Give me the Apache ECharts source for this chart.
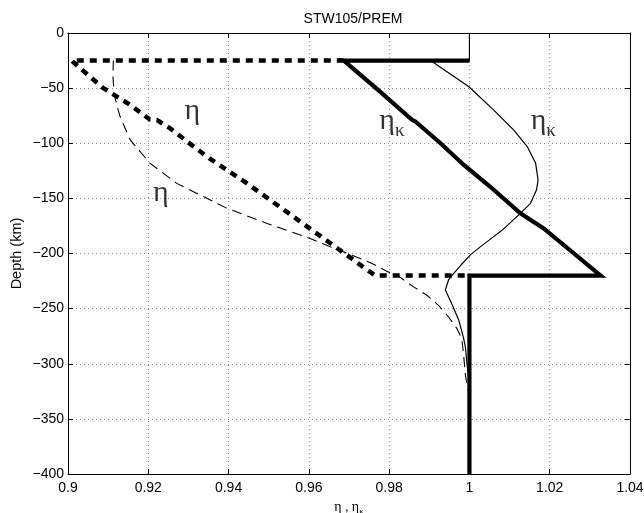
<!DOCTYPE html>
<html><head><meta charset="utf-8">
<script src="https://cdn.jsdelivr.net/npm/echarts@6/dist/echarts.min.js"></script>
<style>html,body{margin:0;padding:0;background:#fff}#c{width:644px;height:513px}</style>
</head><body><div id="c"></div>
<script>
// STW105 eta_kappa (thick solid)
const stwEtaK = [[1.0,-400],[1.0,-220],[1.0327,-220],[1.0185,-177.3],[1.0127,-163.6],[1.0052,-139.5],[0.9986,-119.7],[0.9928,-100],[0.9866,-80.5],[0.9857,-78.8],[0.9778,-53.4],[0.9687,-25],[1.0,-25]];
// STW105 eta (thick dotted)
const stwEta = [[0.9687,-25],[0.9009,-25],[0.903,-31.8],[0.9088,-50],[0.9155,-65.2],[0.9204,-78.5],[0.9222,-79],[0.9254,-86.4],[0.9346,-112.2],[0.9446,-136.4],[0.9562,-166.7],[0.9712,-206],[0.974,-213.6],[0.9766,-220],[1.0,-220]];
// PREM eta_kappa (thin solid)
const premEtaK = [[1.0,0],[1.0,-25],[0.9903,-25],[0.9998,-48.5],[1.006,-69.7],[1.011,-87.9],[1.0144,-103],[1.0165,-118.2],[1.0171,-133.4],[1.0167,-142.5],[1.0152,-154.5],[1.0127,-163.6],[1.0081,-179],[1.0045,-189],[1.0027,-194],[1.0003,-201],[0.998,-210],[0.9961,-218],[0.9948,-224],[0.994,-233],[0.9956,-245.5],[0.9973,-260],[0.9985,-276],[0.999,-285],[0.9994,-300],[1.0,-320],[1.0,-400]];
// PREM eta (thin dashed)
const premEta = [[0.9113,-25],[0.9112,-40],[0.9115,-55],[0.9122,-66],[0.913,-76],[0.9155,-97],[0.9204,-118],[0.9271,-136.4],[0.9396,-159],[0.9496,-172.7],[0.9603,-186.4],[0.9668,-196],[0.9728,-204.5],[0.9761,-209.7],[0.9794,-216],[0.9828,-221.8],[0.9861,-230.3],[0.9894,-237.9],[0.9923,-247],[0.9948,-257.6],[0.9969,-268.2],[0.9981,-277.3],[0.9986,-294],[0.999,-310.6],[1.0,-330],[1.0,-400]];
// curve labels [x, y, text]
const curveLabels = [[0.931,-71.1,'{e|η}'],[0.9231,-145.4,'{e|η}'],[0.9807,-80.3,'{e|η}{k|κ}'],[1.0184,-80.3,'{e|η}{k|κ}']];
const titleText = 'STW105/PREM';
const yName = 'Depth (km)';
const xName = '{e|η} {c|,} {e|η}{k|κ}';

const fmtX = v => String(parseFloat(v.toFixed(2)));
const fmtY = v => v < 0 ? '\u2212' + Math.abs(v) : String(v);
const tickFont = {fontFamily:'Liberation Sans', fontSize:14, color:'#000'};
const grid = {type:[1,3], color:'#777', width:0.8};
const chart = echarts.init(document.getElementById('c'), null, {renderer:'canvas'});
chart.setOption({
  animation:false,
  backgroundColor:'#fff',
  title:{text:titleText, left:348, top:7, textAlign:'center', textStyle:{fontFamily:'Liberation Sans', fontSize:14, fontWeight:'normal', color:'#000'}},
  grid:{left:68, right:14, top:33, bottom:39, show:false, containLabel:false, outerBoundsMode:'none'},
  xAxis:[
    {type:'value', min:0.9, max:1.04, interval:0.02, position:'bottom',
     axisLine:{show:true, onZero:false, lineStyle:{color:'#000', width:1}},
     axisTick:{show:true, inside:true, length:5, lineStyle:{color:'#000'}},
     axisLabel:{formatter:fmtX, margin:7, ...tickFont},
     splitLine:{show:true, lineStyle:grid},
     name:xName, nameLocation:'middle', nameGap:23, nameMoveOverlap:false,
     nameTextStyle:{rich:{e:{fontFamily:'Liberation Serif', fontSize:14, lineHeight:20, color:'#000'}, c:{fontFamily:'Liberation Sans', fontSize:13, lineHeight:20, color:'#000'}, k:{fontFamily:'Liberation Serif', fontSize:9, lineHeight:9, color:'#000', verticalAlign:'top', padding:[10,0,0,0]}}}},
    {type:'value', min:0.9, max:1.04, interval:0.02, position:'top',
     axisLine:{show:true, onZero:false, lineStyle:{color:'#000', width:1}},
     axisTick:{show:true, inside:true, length:5, lineStyle:{color:'#000'}},
     axisLabel:{show:false}, splitLine:{show:false}}
  ],
  yAxis:[
    {type:'value', min:-400, max:0, interval:50, position:'left',
     axisLine:{show:true, onZero:false, lineStyle:{color:'#000', width:1}},
     axisTick:{show:true, inside:true, length:5, lineStyle:{color:'#000'}},
     axisLabel:{formatter:fmtY, margin:4, ...tickFont},
     splitLine:{show:true, lineStyle:grid},
     name:yName, nameLocation:'middle', nameGap:44, nameRotate:90, nameMoveOverlap:false,
     nameTextStyle:{fontFamily:'Liberation Sans', fontSize:14.5, color:'#000'}},
    {type:'value', min:-400, max:0, interval:50, position:'right',
     axisLine:{show:true, onZero:false, lineStyle:{color:'#000', width:1}},
     axisTick:{show:true, inside:true, length:5, lineStyle:{color:'#000'}},
     axisLabel:{show:false}, splitLine:{show:false}}
  ],
  series:[
    {type:'line', data:premEta, showSymbol:false, symbol:'none', lineStyle:{color:'#000', width:1.1, type:[10,6]}, z:2},
    {type:'line', data:premEtaK, showSymbol:false, symbol:'none', lineStyle:{color:'#000', width:1.2}, z:2},
    {type:'line', data:stwEta, showSymbol:false, symbol:'none', lineStyle:{color:'#000', width:4.5, type:[7,6], cap:'butt'}, z:3},
    {type:'line', data:stwEtaK, showSymbol:false, symbol:'none', lineStyle:{color:'#000', width:4.2, join:'miter'}, z:4},
    {type:'scatter', data:curveLabels, symbolSize:0, z:5, silent:true,
     label:{show:true, position:'inside', formatter:p => p.data[2],
       rich:{e:{fontFamily:'Liberation Serif', fontSize:30, lineHeight:44, color:'#000'}, k:{fontFamily:'Liberation Serif', fontSize:19, lineHeight:19, color:'#000', verticalAlign:'top', padding:[22,0,0,0]}}}}
  ]
});
</script></body></html>
